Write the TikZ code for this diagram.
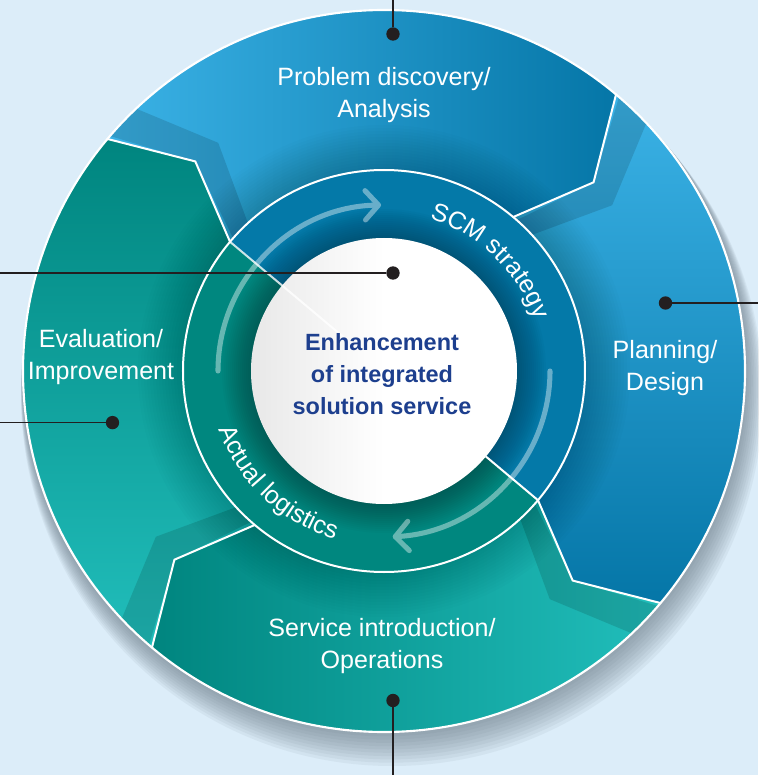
\documentclass[tikz,border=0pt]{standalone}
\usepackage{fontspec}
\setmainfont{Liberation Sans}
\usetikzlibrary{arrows.meta,decorations.text}

\definecolor{bgblue}{HTML}{DCEDF9}
\definecolor{skylight}{HTML}{3BB2E6}
\definecolor{skydark}{HTML}{0576A7}
\definecolor{teallight}{HTML}{21BEBB}
\definecolor{tealdark}{HTML}{00857F}
\definecolor{ringblue}{HTML}{0479A8}
\definecolor{ringteal}{HTML}{00877F}
\definecolor{navytext}{HTML}{1D3F8E}
\definecolor{shadowgrey}{HTML}{5B6B78}
\definecolor{dotblack}{HTML}{231F20}

\newcommand{\ringfont}{\fontsize{18.8}{22}\selectfont}
% one block of the outer cycle, from angle #1 clockwise to angle #2
\newcommand{\cyclepart}[2]{(#1:361) arc[start angle=#1, end angle=#2, radius=361]
  -- ({#2-8}:282) -- (#2:201) arc[start angle=#2, end angle=#1, radius=201]
  -- ({#1-8}:282) -- cycle}

\begin{document}
\begin{tikzpicture}[x=0.75pt,y=0.75pt,
  segline/.style={white,line width=1.5pt,line join=miter},
  ringline/.style={white,line width=1.5pt},
  seglabel/.style={white,align=center,font=\fontsize{18.8}{24}\selectfont},
  corelabel/.style={navytext,align=center,font=\fontsize{17.6}{24}\selectfont\bfseries},
  calldot/.style={circle,fill=dotblack,inner sep=0pt,minimum size=10pt},
  callline/.style={dotblack,line width=0.8pt},
  cyclearrow/.style={white,line width=3.8pt,line cap=round,-{Straight Barb[length=10pt,width=22pt,round]}}]
\useasboundingbox (-384,-404) rectangle (374,371);
\fill[bgblue] (-384,-404) rectangle (374,371);

% drop shadow
\foreach \k in {1,...,10}
  \fill[shadowgrey,opacity=0.07] ({0.8*\k},{-2.4*\k}) circle ({362+0.9*\k});

% outer cycle
\shade[left color=skylight,right color=skydark] \cyclepart{140}{50};
\shade[top color=skylight,bottom color=skydark] \cyclepart{50}{-40};
\shade[left color=tealdark,right color=teallight] \cyclepart{-40}{-130};
\shade[top color=tealdark,bottom color=teallight] \cyclepart{230}{140};

\begin{scope}
\clip (0,0) circle (361);
\foreach \a in {140,50,-40,-130}
  \fill[black,opacity=0.13] (\a:370) -- ({\a-8}:282) -- (\a:190)
    -- ({\a-6}:190) -- ({\a-14}:282) -- ({\a-6}:370) -- cycle;
\foreach \r in {204,207,...,246}
  \fill[black,opacity=0.012] (0,0) circle (\r);
\end{scope}

\foreach \a in {140,50,-40,-130}
  \draw[segline] (\a:361) -- ({\a-8}:282) -- (\a:201);
\draw[white,line width=1.6pt] (0,0) circle (361);

% middle ring
\fill[ringblue] (0,0) -- (-40:201) arc[start angle=-40, end angle=140, radius=201] -- cycle;
\fill[ringteal] (0,0) -- (140:201) arc[start angle=140, end angle=320, radius=201] -- cycle;
\foreach \r in {134,136,...,162}
  \fill[black,opacity=0.018] (0,0) circle (\r);
\draw[ringline] (0,0) circle (201);
\draw[ringline] (-40:201) -- (-40:133);

\begin{scope}[transparency group,opacity=0.4]
\draw[cyclearrow] (180:166) arc[start angle=180, end angle=91, radius=166];
\draw[cyclearrow] (0:166) arc[start angle=0, end angle=-87, radius=166];
\end{scope}

\path[decorate,decoration={text along path,text={|\ringfont|SCM strategy},
  text color=white,text align=center}]
  (78:159) arc[start angle=78, end angle=14, radius=159];
\path[decorate,decoration={text along path,text={|\ringfont|Actual logistics},
  text color=white,text align=center}]
  (-166:175) arc[start angle=-166, end angle=-101, radius=175];

% core
\shade[left color=black!9,right color=white,middle color=white] (0,0) circle (133);
\draw[ringline,opacity=0.8] (140:201) -- (140:50);

\node[corelabel] (core) at (-2,-3) {Enhancement\\of integrated\\solution service};
\node[seglabel] (problem) at (0,276) {Problem discovery/\\Analysis};
\node[seglabel] (planning) at (281,3) {Planning/\\Design};
\node[seglabel] (service) at (-2,-275) {Service introduction/\\Operations};
\node[seglabel] (evaluation) at (-283,14) {Evaluation/\\Improvement};

% call-outs
\node[calldot] (dottop) at (9,337) {};
\node[calldot] (dotright) at (281.5,68) {};
\node[calldot] (dotcore) at (9,98) {};
\node[calldot] (dotleft) at (-271.5,-51.6) {};
\node[calldot] (dotbottom) at (9,-329.5) {};
\coordinate (endtop) at (9,371);
\coordinate (endright) at (374,68);
\coordinate (endcore) at (-384,98);
\coordinate (endleft) at (-384,-51.6);
\coordinate (endbottom) at (9,-404);
\draw[callline] (dottop) -- (endtop);
\draw[callline] (dotright) -- (endright);
\draw[callline] (dotcore) -- (endcore);
\draw[callline] (dotleft) -- (endleft);
\draw[callline] (dotbottom) -- (endbottom);
\end{tikzpicture}
\end{document}
